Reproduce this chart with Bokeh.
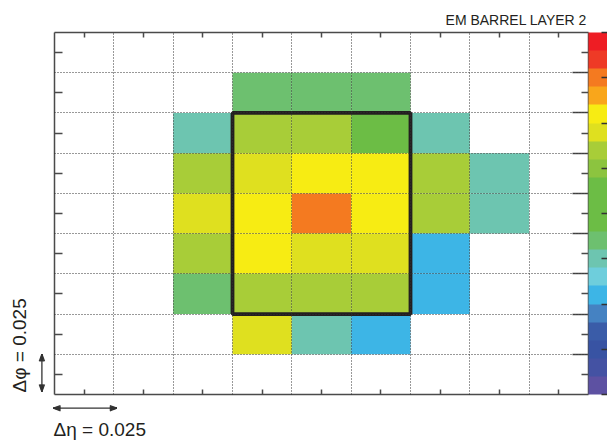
import math
from bokeh.plotting import figure
from bokeh.models import (ColumnDataSource, LinearColorMapper, ColorBar, FixedTicker,
                          LinearAxis, Range1d, CustomJSTickFormatter)
from bokeh.core.properties import value
from bokeh.transform import transform
from bokeh.embed import file_html
from bokeh.resources import INLINE

# ---------------- data ----------------
TITLE = "EM BARREL LAYER 2"
CELL_SIZE = 0.025          # cell size in eta and phi
N_ETA = 9
N_PHI = 9
ETA_LABEL = "Δη = 0.025"
PHI_LABEL = "Δφ = 0.025"

# cell energies (colour-scale levels), rows listed from top (high phi) to bottom
N = None
cell_energy = [
    [N, N, N,    N,    N,    N,    N,    N,   N],
    [N, N, N,    8.5,  8.5,  8.5,  N,    N,   N],
    [N, N, 7.5,  13.5, 13.5, 10.5, 7.5,  N,   N],
    [N, N, 13.5, 14.5, 15.5, 15.5, 13.5, 7.5, N],
    [N, N, 14.5, 15.5, 17.5, 15.5, 13.5, 7.5, N],
    [N, N, 13.5, 15.5, 14.5, 14.5, 5.5,  N,   N],
    [N, N, 8.5,  13.5, 13.5, 13.5, 5.5,  N,   N],
    [N, N, N,    14.5, 7.5,  5.5,  N,    N,   N],
    [N, N, N,    N,    N,    N,    N,    N,   N],
]

# colour scale (low -> high)
palette = ["#5D51A2", "#4452A3", "#3853A3", "#3A5CA8", "#4582C2", "#3DB5E6",
           "#6ECEDC", "#6DC5B0", "#6DC06F", "#6CBD45", "#6CBD45", "#6CBD45",
           "#8CC43F", "#A8CD38", "#DFE01F", "#F7EC13", "#F9A61B", "#F47A20",
           "#EE3A26", "#EE1D24"]
scale_low, scale_high = 0, 20
scale_ticks = [0, 2.5, 5, 7.5, 10, 12.5, 15, 17.5, 20]

# 3x5 cluster window (eta x phi)
window_eta = [-0.0375, 0.0375]
window_phi = [-0.0625, 0.0625]

# ---------------- geometry ----------------
half_eta = N_ETA * CELL_SIZE / 2
half_phi = N_PHI * CELL_SIZE / 2
eta_centers = [-half_eta + (i + 0.5) * CELL_SIZE for i in range(N_ETA)]
phi_centers = [half_phi - (j + 0.5) * CELL_SIZE for j in range(N_PHI)]
eta_edges = [-half_eta + i * CELL_SIZE for i in range(1, N_ETA)]
phi_edges = [-half_phi + j * CELL_SIZE for j in range(1, N_PHI)]

xs, ys, es = [], [], []
for j, row in enumerate(cell_energy):
    for i, e in enumerate(row):
        if e is not None:
            xs.append(eta_centers[i])
            ys.append(phi_centers[j])
            es.append(e)
cells = ColumnDataSource(dict(eta=xs, phi=ys, energy=es))

W, H = 607, 441
FRAME_W, FRAME_H = 534, 362
p = figure(width=W, height=H, output_backend="svg", toolbar_location=None,
           x_range=Range1d(-half_eta, half_eta), y_range=Range1d(-half_phi, half_phi),
           x_axis_location=None, y_axis_location=None,
           min_border_left=54, min_border_right=19, min_border_top=32, min_border_bottom=47)
p.outline_line_color = None
p.background_fill_color = "white"
p.border_fill_color = "white"

mapper = LinearColorMapper(palette=palette, low=scale_low, high=scale_high)

p.rect(x="eta", y="phi", width=CELL_SIZE, height=CELL_SIZE, source=cells,
       fill_color=transform("energy", mapper), line_color=None)

box = ColumnDataSource(dict(l=[window_eta[0]], r=[window_eta[1]],
                            b=[window_phi[0]], t=[window_phi[1]]))
p.quad(left="l", right="r", bottom="b", top="t", source=box,
       fill_color=None, line_color="#231F20", line_width=3.8)

# grid (dotted, on top of the cells)
for g, edges in ((p.xgrid, eta_edges), (p.ygrid, phi_edges)):
    g.ticker = FixedTicker(ticks=edges)
    g.grid_line_color = "#333333"
    g.grid_line_dash = "1 2"
    g.grid_line_width = 1
    g.level = "overlay"

AX_COLOR = "#4a4a4a"
blank = CustomJSTickFormatter(code="return ''")

def make_axis(ticks, tick_in, minor=None, minor_in=0):
    ax = LinearAxis(ticker=FixedTicker(ticks=ticks, minor_ticks=minor or []),
                    formatter=blank)
    ax.major_tick_in = tick_in
    ax.major_tick_out = 0
    ax.minor_tick_in = minor_in
    ax.minor_tick_out = 0
    ax.major_label_standoff = 0
    ax.axis_label_standoff = 0
    ax.axis_line_color = AX_COLOR
    ax.axis_line_width = 1.5
    ax.major_tick_line_color = AX_COLOR
    ax.major_tick_line_width = 1.5
    ax.minor_tick_line_color = AX_COLOR
    ax.minor_tick_line_width = 1.5
    return ax

p.add_layout(make_axis(phi_centers, 8), "left")
p.add_layout(make_axis(eta_centers, 5), "below")
p.add_layout(make_axis(eta_centers, 5), "above")
p.add_layout(make_axis(phi_edges, 16, minor=phi_centers, minor_in=7), "right")

cb = ColorBar(color_mapper=mapper, width=19, padding=0, margin=0,
              ticker=FixedTicker(ticks=scale_ticks), formatter=blank,
              major_tick_in=6, major_tick_out=0, major_tick_line_color="#333333",
              major_tick_line_width=1.3, label_standoff=0,
              bar_line_color=None, border_line_color=None,
              background_fill_alpha=0, minor_tick_line_color=None)
p.add_layout(cb, "right")

# pixel -> data conversion for decorations outside the frame
px_eta = (2 * half_eta) / FRAME_W
px_phi = (2 * half_phi) / FRAME_H

FONT = value("Liberation Sans")
TXT = "#231F20"
ARR = "#333333"

# title (top right)
p.text(x=[half_eta - 1.6 * px_eta], y=[half_phi + 13 * px_phi], text=[TITLE],
       text_font=FONT, text_font_size=value("14px"), text_color=TXT,
       text_align="right", text_baseline="alphabetic", level="overlay")

# double-headed arrows built from line segments
def arrow(x0, y0, x1, y1):
    """x/y in data units; returns segment coordinate lists for shaft + filled heads"""
    sx0, sy0, sx1, sy1 = [x0], [y0], [x1], [y1]
    dxp = (x1 - x0) / px_eta
    dyp = (y1 - y0) / px_phi
    length = math.hypot(dxp, dyp)
    ux, uy = dxp / length, dyp / length
    L, Wd = 7.0, 2.6
    for (tx, ty, sgn) in ((x0, y0, 1), (x1, y1, -1)):
        for f in (-1, -0.6, -0.3, 0, 0.3, 0.6, 1):
            bx = sgn * ux * L + f * Wd * (-uy)
            by = sgn * uy * L + f * Wd * ux
            sx0.append(tx); sy0.append(ty)
            sx1.append(tx + bx * px_eta); sy1.append(ty + by * px_phi)
    return sx0, sy0, sx1, sy1

# delta-eta label and arrow
p.text(x=[-half_eta - 1 * px_eta], y=[-half_phi - 34.7 * px_phi], text=[ETA_LABEL],
       text_font=FONT, text_font_size=value("19px"), text_color=TXT,
       text_align="left", text_baseline="alphabetic", level="overlay")
y_arrow = -half_phi - 13.7 * px_phi
a = arrow(-half_eta - 1 * px_eta, y_arrow, -half_eta + CELL_SIZE + 3 * px_eta, y_arrow)
p.segment(x0=a[0], y0=a[1], x1=a[2], y1=a[3], line_color=ARR, line_width=1.3, level="overlay")

# delta-phi label and arrow
p.text(x=[-half_eta - 35.3 * px_eta], y=[-half_phi + 2 * px_phi], text=[PHI_LABEL],
       text_font=FONT, text_font_size=value("19px"), text_color=TXT, angle=math.pi / 2,
       text_align="left", text_baseline="alphabetic", level="overlay")
x_arrow = -half_eta - 12.6 * px_eta
a = arrow(x_arrow, -half_phi + 3 * px_phi, x_arrow, -half_phi + CELL_SIZE)
p.segment(x0=a[0], y0=a[1], x1=a[2], y1=a[3], line_color=ARR, line_width=1.3, level="overlay")

open("out.html", "w").write(file_html(p, INLINE))
